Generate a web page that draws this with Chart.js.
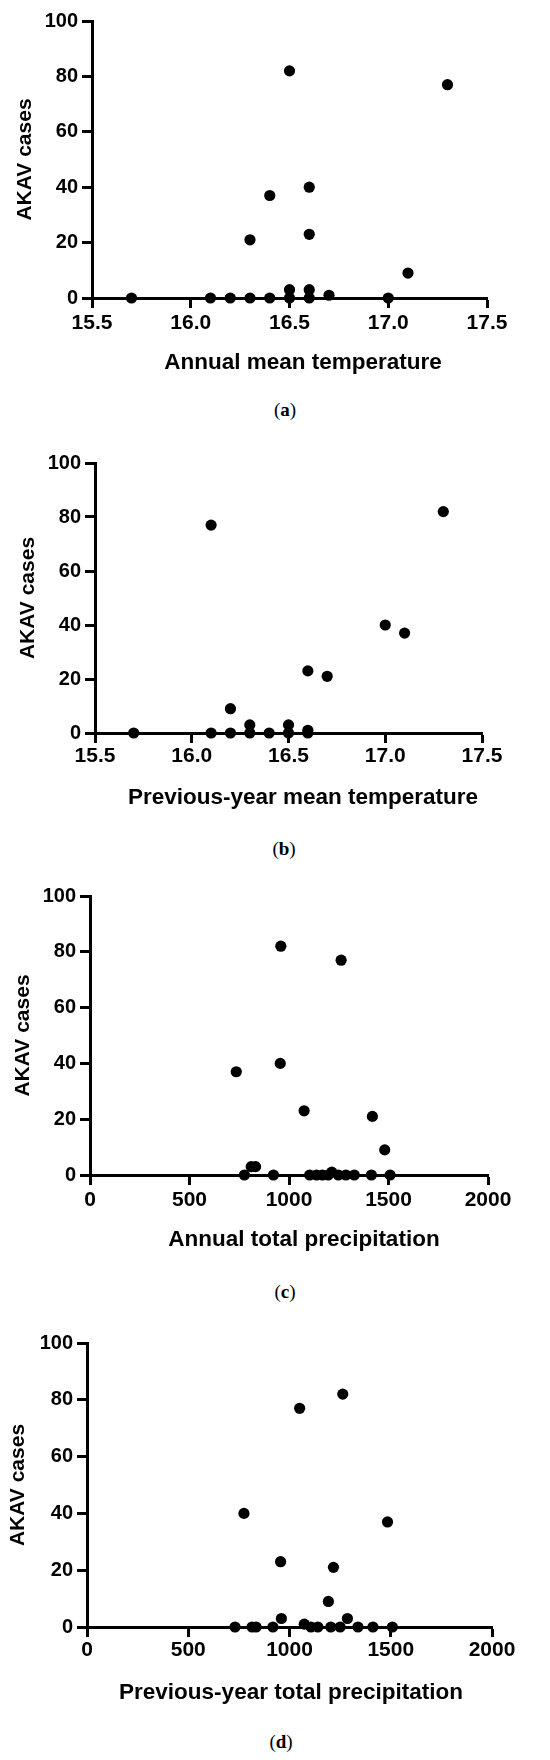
<!DOCTYPE html>
<html>
<head>
<meta charset="utf-8">
<script src="https://cdn.jsdelivr.net/npm/chart.js@4.4.0/dist/chart.umd.min.js"></script>
<style>
  body { margin: 0; background: #fff; }
  #page { position: relative; width: 550px; height: 1760px; overflow: hidden; }
  .box { position: absolute; left: 0; width: 550px; }
  .xtitle { position: absolute; font: bold 22.5px "Liberation Sans", Arial, sans-serif; color: #000; transform: translate(-50%, -50%); white-space: nowrap; }
  .cap { position: absolute; font: 19px "Liberation Serif", "Times New Roman", serif; color: #000; transform: translate(-50%, -50%); white-space: nowrap; }
</style>
</head>
<body>
<div id="page"></div>
<script>
// tick values
const caseTicks = [0, 20, 40, 60, 80, 100];
const tempTicks = [15.5, 16.0, 16.5, 17.0, 17.5];
const precipTicks = [0, 500, 1000, 1500, 2000];

// (a) annual mean temperature vs cases
const annualTemp = [15.7, 16.1, 16.2, 16.3, 16.3, 16.4, 16.4, 16.5, 16.5, 16.5, 16.6, 16.6, 16.6, 16.6, 16.7, 17.0, 17.1, 17.3];
const annualTempCases = [0, 0, 0, 0, 21, 0, 37, 82, 3, 0, 40, 23, 3, 0, 1, 0, 9, 77];

// (b) previous-year mean temperature vs cases
const prevTemp = [15.7, 16.1, 16.1, 16.2, 16.2, 16.3, 16.3, 16.4, 16.5, 16.5, 16.6, 16.6, 16.6, 16.7, 17.0, 17.1, 17.3];
const prevTempCases = [0, 77, 0, 9, 0, 3, 0, 0, 3, 0, 23, 1, 0, 21, 40, 37, 82];

// (c) annual total precipitation vs cases
const annualPrecip = [735, 776, 810, 832, 922, 956, 959, 1076, 1104, 1138, 1168, 1197, 1215, 1248, 1262, 1286, 1328, 1414, 1419, 1481, 1508];
const annualPrecipCases = [37, 0, 3, 3, 0, 40, 82, 23, 0, 0, 0, 0, 1, 0, 77, 0, 0, 0, 21, 9, 0];

// (d) previous-year total precipitation vs cases
const prevPrecip = [731, 775, 815, 835, 918, 956, 960, 1050, 1073, 1106, 1140, 1192, 1204, 1217, 1250, 1263, 1286, 1338, 1412, 1484, 1508];
const prevPrecipCases = [0, 40, 0, 0, 0, 23, 3, 77, 1, 0, 0, 9, 0, 21, 0, 82, 3, 0, 0, 37, 0];

const sans = '"Liberation Sans", Arial, sans-serif';

const panels = [
  { letter: 'a', xs: annualTemp, ys: annualTempCases, xTicks: tempTicks, digits: 1, title: 'Annual mean temperature',
    top: 0, height: 358, left: 92, right: 63, yTitlePad: 13, tickPad: 3, titleX: 303, titleY: 362, capX: 285, capY: 410 },
  { letter: 'b', xs: prevTemp, ys: prevTempCases, xTicks: tempTicks, digits: 1, title: 'Previous-year mean temperature',
    top: 442, height: 351, left: 95, right: 68, yTitlePad: 16, tickPad: 1, titleX: 303, titleY: 797, capX: 284, capY: 849 },
  { letter: 'c', xs: annualPrecip, ys: annualPrecipCases, xTicks: precipTicks, digits: 0, title: 'Annual total precipitation',
    top: 875, height: 360, left: 90, right: 62, yTitlePad: 11, tickPad: 3, titleX: 304, titleY: 1239, capX: 285, capY: 1292 },
  { letter: 'd', xs: prevPrecip, ys: prevPrecipCases, xTicks: precipTicks, digits: 0, title: 'Previous-year total precipitation',
    top: 1322, height: 365, left: 87, right: 58, yTitlePad: 6, tickPad: 1, titleX: 291, titleY: 1692, capX: 281, capY: 1742 }
];

const page = document.getElementById('page');

panels.forEach(p => {
  const box = document.createElement('div');
  box.className = 'box';
  box.style.top = p.top + 'px';
  box.style.height = p.height + 'px';
  const canvas = document.createElement('canvas');
  box.appendChild(canvas);
  page.appendChild(box);

  const xt = document.createElement('div');
  xt.className = 'xtitle';
  xt.style.left = p.titleX + 'px';
  xt.style.top = p.titleY + 'px';
  xt.textContent = p.title;
  page.appendChild(xt);

  // caption "(a)" with bold letter
  const cap = document.createElement('div');
  cap.className = 'cap';
  cap.style.left = p.capX + 'px';
  cap.style.top = p.capY + 'px';
  const b = document.createElement('b');
  b.textContent = p.letter;
  cap.append('(', b, ')');
  page.appendChild(cap);

  const axisGrid = { drawOnChartArea: false, drawTicks: true, tickLength: 10, tickWidth: 3, tickColor: '#000' };
  const axisBorder = { display: true, color: '#000', width: 3 };

  new Chart(canvas, {
    type: 'scatter',
    data: {
      datasets: [{
        data: p.xs.map((v, i) => ({ x: v, y: p.ys[i] })),
        backgroundColor: '#000',
        borderColor: '#000',
        borderWidth: 0,
        pointRadius: 5.6,
        pointHoverRadius: 5.6,
        clip: false
      }]
    },
    options: {
      responsive: true,
      maintainAspectRatio: false,
      animation: false,
      layout: { padding: { top: 21, right: p.right, bottom: 0, left: 0 } },
      plugins: { legend: { display: false }, tooltip: { enabled: false } },
      scales: {
        x: {
          type: 'linear',
          min: p.xTicks[0],
          max: p.xTicks[p.xTicks.length - 1],
          afterBuildTicks: ax => { ax.ticks = p.xTicks.map(v => ({ value: v })); },
          afterFit: s => { s.height = 60; },
          grid: axisGrid,
          border: axisBorder,
          ticks: {
            color: '#000',
            font: { family: sans, size: 21, weight: 'bold' },
            padding: p.tickPad,
            maxRotation: 0,
            autoSkip: false,
            callback: v => Number(v).toFixed(p.digits)
          }
        },
        y: {
          type: 'linear',
          min: caseTicks[0],
          max: caseTicks[caseTicks.length - 1],
          afterBuildTicks: ax => { ax.ticks = caseTicks.map(v => ({ value: v })); },
          afterFit: s => { s.width = p.left; },
          grid: axisGrid,
          border: axisBorder,
          ticks: { color: '#000', font: { family: sans, size: 20, weight: 'bold' }, padding: 4, autoSkip: false },
          title: {
            display: true,
            text: 'AKAV cases',
            color: '#000',
            font: { family: sans, size: 21, weight: 'bold' },
            padding: { top: p.yTitlePad, bottom: 0 }
          }
        }
      }
    }
  });
});
</script>
</body>
</html>
